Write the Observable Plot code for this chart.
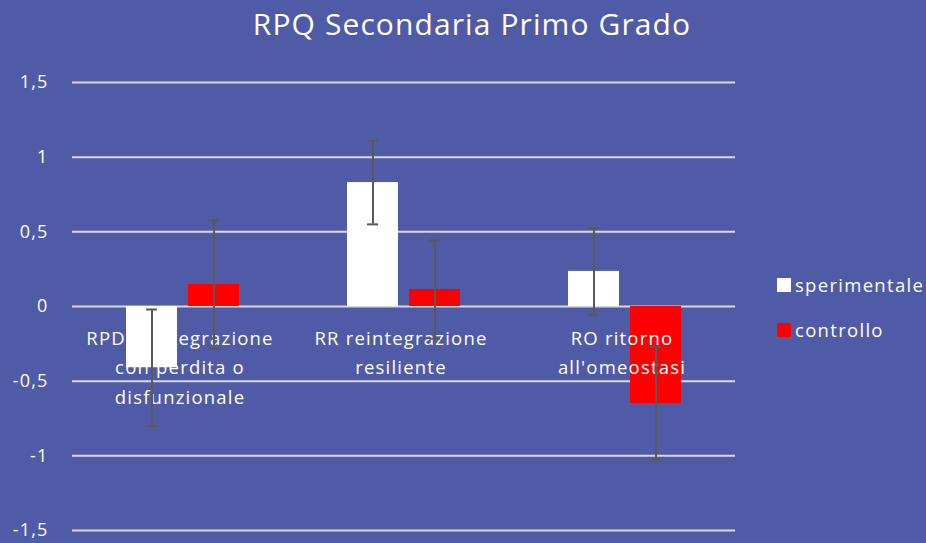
<!DOCTYPE html>
<html>
<head>
<meta charset="utf-8">
<script src="https://cdn.jsdelivr.net/npm/d3@7"></script>
<script src="https://cdn.jsdelivr.net/npm/@observablehq/plot@0.6"></script>
<style>
  html, body { margin: 0; padding: 0; background: #4f5ba6; width: 926px; height: 543px; overflow: hidden; }
  #wrap { position: relative; width: 926px; height: 543px; font-family: "Open Sans", sans-serif; color: #fff; }
  #title { position: absolute; left: 0; top: 3px; width: 944px; text-align: center; font-size: 30px; letter-spacing: 1.1px; }
  .leg { position: absolute; left: 777px; font-size: 18.5px; display: flex; align-items: center; letter-spacing: 1.3px; font-weight: 500; }
  .sw { width: 14px; height: 14px; margin-right: 4px; }
  #chart { position: absolute; left: 0; top: 0; }
  #chart text { letter-spacing: 1.2px; font-weight: 500; }
</style>
</head>
<body>
<div id="wrap">
  <div id="chart"></div>
  <div id="title">RPQ Secondaria Primo Grado</div>
  <div id="legend"></div>
</div>
<script>
const categories = ["RPD reintegrazione con perdita o disfunzionale", "RR reintegrazione resiliente", "RO ritorno all'omeostasi"];
const categoryLabels = ["RPD reintegrazione\ncon perdita o\ndisfunzionale", "RR reintegrazione\nresiliente", "RO ritorno\nall'omeostasi"];
const series = ["sperimentale", "controllo"];
const seriesColors = ["#ffffff", "#ff0000"];
const sperimentale = [-0.41, 0.83, 0.235];
const sperimentaleErr = [0.39, 0.28, 0.29];
const controllo = [0.147, 0.114, -0.65];
const controlloErr = [0.43, 0.33, 0.38];
const yTicks = [-1.5, -1, -0.5, 0, 0.5, 1, 1.5];

const rows = [];
categories.forEach((c, i) => {
  rows.push({category: c, series: "sperimentale", value: sperimentale[i], err: sperimentaleErr[i]});
  rows.push({category: c, series: "controllo", value: controllo[i], err: controlloErr[i]});
});
const labelRows = categories.map((c, i) => ({category: c, label: categoryLabels[i]}));

const fmt = d => String(d).replace(".", ",");

const chart = Plot.plot({
  width: 926,
  height: 543,
  marginLeft: 72,
  marginRight: 191,
  marginTop: 82,
  marginBottom: 13,
  style: {background: "transparent", color: "#fff", fontFamily: "'Open Sans', sans-serif"},
  fx: {domain: categories, padding: 0, axis: null},
  x: {domain: series, paddingInner: 0.175, paddingOuter: 0.842, axis: null},
  y: {domain: [-1.5, 1.5], axis: null},
  color: {domain: series, range: seriesColors},
  marks: [
    Plot.ruleY(yTicks, {stroke: "#d9d9d9", strokeWidth: 2}),
    Plot.axisY({ticks: yTicks, tickSize: 0, tickPadding: 24, tickFormat: fmt, fontSize: 18, fill: "#fff", anchor: "left", label: null}),
    Plot.barY(rows, {fx: "category", x: "series", y: "value", fill: "series"}),
    Plot.text(labelRows, {fx: "category", y: () => 0, text: "label", lineAnchor: "top", dy: 17, dx: -3, fontSize: 18.5, lineHeight: 1.6, fill: "#fff"}),
    Plot.ruleX(rows, {fx: "category", x: "series", y1: d => d.value - d.err, y2: d => d.value + d.err, stroke: "#595959", strokeWidth: 2}),
    Plot.tickY(rows, {fx: "category", x: "series", y: d => d.value - d.err, stroke: "#595959", strokeWidth: 2, insetLeft: 20, insetRight: 20}),
    Plot.tickY(rows, {fx: "category", x: "series", y: d => d.value + d.err, stroke: "#595959", strokeWidth: 2, insetLeft: 20, insetRight: 20})
  ]
});
document.getElementById("chart").appendChild(chart);

const legend = document.getElementById("legend");
const legTops = [272, 317];
series.forEach((s, i) => {
  const el = document.createElement("div");
  el.className = "leg";
  el.style.top = legTops[i] + "px";
  el.innerHTML = `<div class="sw" style="background:${seriesColors[i]}"></div><span>${s}</span>`;
  legend.appendChild(el);
});
</script>
</body>
</html>
